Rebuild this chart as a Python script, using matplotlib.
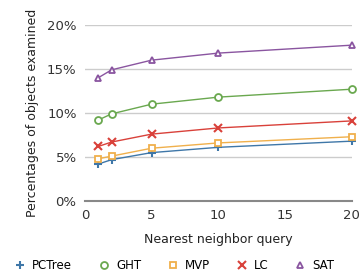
import matplotlib.pyplot as plt
from matplotlib.lines import Line2D

queries = [1, 2, 5, 10, 20]
pctree = [4.2, 4.7, 5.5, 6.1, 6.8]
ght = [9.2, 9.9, 11.0, 11.8, 12.7]
mvp = [4.8, 5.1, 6.0, 6.6, 7.3]
lc = [6.2, 6.7, 7.6, 8.3, 9.1]
sat = [14.0, 14.9, 16.0, 16.8, 17.7]

yticks = [0, 5, 10, 15, 20]
ytick_labels = ["0%", "5%", "10%", "15%", "20%"]
xticks = [0, 5, 10, 15, 20]

fig = plt.figure(figsize=(3.63, 2.8), dpi=100)
ax = fig.add_axes([0.234, 0.282, 0.735, 0.629])

series = [
    ("PCTree", pctree, "#3f77a8", "+"),
    ("GHT", ght, "#6aa84f", "o"),
    ("MVP", mvp, "#f0b04c", "s"),
    ("LC", lc, "#d9413a", "x"),
    ("SAT", sat, "#8a55a0", "^"),
]
handles = []
for name, vals, col, mk in series:
    if mk in ("+", "x"):
        style = dict(marker=mk, markersize=6, markeredgewidth=1.5, color=col)
    else:
        style = dict(marker=mk, markersize=5, markerfacecolor="white",
                     markeredgewidth=1.3, color=col)
    ax.plot(queries, vals, linewidth=1, clip_on=False, **style)
    handles.append(Line2D([], [], linestyle="none", label=name, **style))

ax.set_xlim(0, 20)
ax.set_ylim(0, 20)
ax.set_yticks(yticks)
ax.set_yticklabels(ytick_labels)
ax.set_xticks(xticks)
ax.grid(axis="y", color="#cccccc", linewidth=1)
ax.set_axisbelow(True)
for s in ["top", "right", "left"]:
    ax.spines[s].set_visible(False)
ax.spines["bottom"].set_color("#888888")
ax.spines["bottom"].set_linewidth(1.5)
ax.tick_params(length=0, labelsize=9.5, colors="#333333", pad=6)

ax.set_xlabel("Nearest neighbor query", fontsize=9, color="#222222", labelpad=8)
ax.set_ylabel("Percentages of objects examined", fontsize=9, color="#222222", labelpad=6)

fig.legend(handles=handles, loc="lower center", bbox_to_anchor=(0.48, -0.01), ncol=5,
           frameon=False, fontsize=8.5, handlelength=1.0, handletextpad=0.5,
           columnspacing=2.2)

fig.savefig("out.png", dpi=100)
